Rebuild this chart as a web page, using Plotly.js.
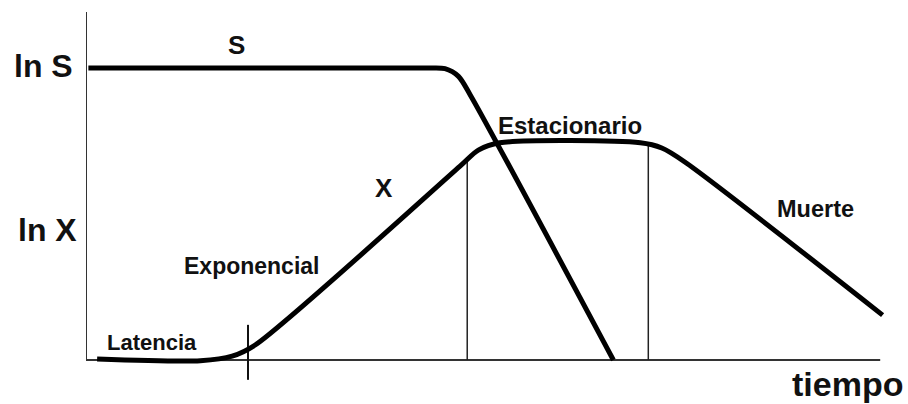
<!DOCTYPE html>
<html>
<head>
<meta charset="utf-8">
<script src="https://cdn.plot.ly/plotly-3.0.1.min.js"></script>
<style>html,body{margin:0;padding:0;background:#fff;}#chart{width:908px;height:404px;}</style>
</head>
<body>
<div id="chart"></div>
<script>
// Substrate curve (ln S) vs time
const sTime = [0.03, 4.30, 4.52, 4.69, 4.84, 6.64];
const sValue = [8.39, 8.39, 8.37, 8.15, 7.61, 0.0];

// Biomass curve (ln X) vs time
const xTime = [0.14, 1.44, 1.84, 2.13, 4.71, 4.94, 5.21, 6.98, 7.25, 7.54, 10.03];
const xValue = [0.03, -0.02, 0.11, 0.43, 5.57, 6.03, 6.24, 6.24, 6.09, 5.69, 1.29];

// Phase boundary markers
const boundaryTime = [4.80, 7.08];
const boundaryTop = [5.69, 6.24];
const lagTickTime = 2.04;
const lagTickRange = [-0.57, 1.01];

// Axis extents
const axisTimeMax = 10.0;
const axisValueMax = 10.0;

// Labels
const yLabels = ["ln S", "ln X"];
const yLabelPos = [[-0.0523, 0.855], [-0.0474, 0.414]];   // paper coords
const curveLabels = ["S", "X"];
const curveLabelPos = [[1.90, 9.05], [3.75, 4.94]];
const phaseLabels = ["Latencia", "Exponencial", "Estacionario", "Muerte"];
const phaseLabelPos = [[0.83, 0.50], [2.08, 2.71], [6.10, 6.73], [9.18, 4.35]];
const phaseLabelSizes = [22, 23, 24, 23.5];
const xAxisLabel = "tiempo";
const xAxisLabelPos = [0.926, 0.0];   // paper coords

const FONT = "Liberation Sans, Arial, sans-serif";

const traces = [];
// axes
traces.push({x:[0,0], y:[0,axisValueMax], mode:'lines', line:{color:'#333', width:2}, hoverinfo:'skip'});
traces.push({x:[0,axisTimeMax], y:[0,0], mode:'lines', line:{color:'#333', width:2}, hoverinfo:'skip'});
// boundary lines
boundaryTime.forEach((t,i)=>{
  traces.push({x:[t,t], y:[0,boundaryTop[i]], mode:'lines', line:{color:'#222', width:1.5}, hoverinfo:'skip'});
});
traces.push({x:[lagTickTime,lagTickTime], y:lagTickRange, mode:'lines', line:{color:'#111', width:2}, hoverinfo:'skip'});
// curves
traces.push({x:sTime, y:sValue, mode:'lines', line:{color:'#000', width:5, shape:'spline', smoothing:0.8}, hoverinfo:'skip'});
traces.push({x:xTime, y:xValue, mode:'lines', line:{color:'#000', width:5, shape:'spline', smoothing:0.8}, hoverinfo:'skip'});

const annotations = [];
yLabels.forEach((t,i)=>annotations.push({x:yLabelPos[i][0], y:yLabelPos[i][1], xref:'paper', yref:'paper', text:'<b>'+t+'</b>', showarrow:false, xanchor:'center', yanchor:'middle', font:{family:FONT, size:32, color:'#111'}}));
curveLabels.forEach((t,i)=>annotations.push({x:curveLabelPos[i][0], y:curveLabelPos[i][1], xref:'x', yref:'y', text:'<b>'+t+'</b>', showarrow:false, xanchor:'center', yanchor:'middle', font:{family:FONT, size:26, color:'#111'}}));
phaseLabels.forEach((t,i)=>annotations.push({x:phaseLabelPos[i][0], y:phaseLabelPos[i][1], xref:'x', yref:'y', text:'<b>'+t+'</b>', showarrow:false, xanchor:'center', yanchor:'middle', font:{family:FONT, size:phaseLabelSizes[i], color:'#111'}}));
annotations.push({x:xAxisLabelPos[0], y:xAxisLabelPos[1], xref:'paper', yref:'paper', text:'<b>'+xAxisLabel+'</b>', showarrow:false, xanchor:'center', yanchor:'middle', font:{family:FONT, size:34, color:'#111'}});

const layout = {
  width:908, height:404,
  margin:{l:86, r:0, t:12, b:20, pad:0},
  paper_bgcolor:'#fff', plot_bgcolor:'#fff',
  showlegend:false,
  xaxis:{range:[0,10.35], showgrid:false, zeroline:false, showticklabels:false, showline:false, ticks:''},
  yaxis:{range:[-0.69,10], showgrid:false, zeroline:false, showticklabels:false, showline:false, ticks:''},
  annotations:annotations
};
Plotly.newPlot('chart', traces, layout, {staticPlot:true, displayModeBar:false});
</script>
</body>
</html>
